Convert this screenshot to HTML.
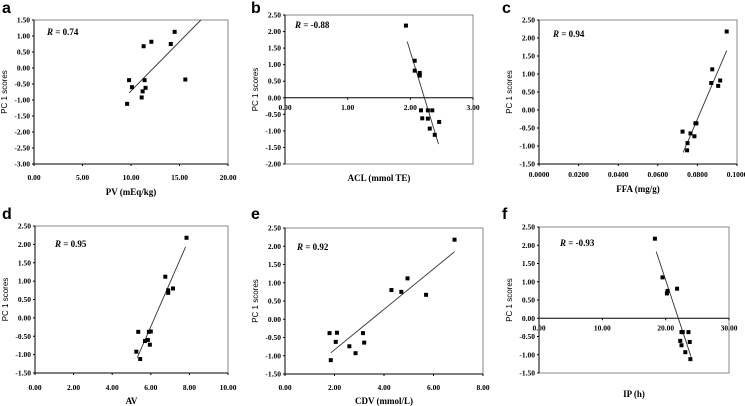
<!DOCTYPE html>
<html><head><meta charset="utf-8">
<style>
html,body{margin:0;padding:0;background:#fff;}
svg{display:block;}
.t{font-family:"Liberation Serif",serif;font-weight:bold;font-size:7.5px;fill:#000;}
.ttl{font-family:"Liberation Serif",serif;font-weight:bold;font-size:9px;fill:#000;}
.yl{font-family:"Liberation Sans",sans-serif;font-size:8px;fill:#000;}
.lt{font-family:"Liberation Sans",sans-serif;font-weight:bold;font-size:16px;fill:#000;}
.r{font-family:"Liberation Serif",serif;font-weight:bold;font-size:9px;fill:#000;}
</style></head>
<body>
<svg id="c" width="745" height="406" viewBox="0 0 745 406" xmlns="http://www.w3.org/2000/svg"></svg>
<script>
// Panel a
const aX=[9.6,9.8,10.1,11.1,11.2,11.3,11.4,11.5,12.1,14.1,14.5,15.6];
const aY=[-1.12,-0.38,-0.6,-0.92,-0.73,0.68,-0.38,-0.62,0.82,0.75,1.13,-0.36];
const aLine=[9.8,-0.78,17.2,1.5];
const aXTicks=["0.00","5.00","10.00","15.00","20.00"];
const aYTicks=["-3.00","-2.50","-2.00","-1.50","-1.00","-0.50","0.00","0.50","1.00","1.50"];
// Panel b
const bX=[1.93,2.07,2.07,2.15,2.15,2.17,2.28,2.35,2.19,2.28,2.31,2.39,2.46];
const bY=[2.18,1.12,0.82,0.75,0.67,-0.38,-0.38,-0.38,-0.62,-0.63,-0.93,-1.12,-0.73];
const bLine=[1.95,1.7,2.45,-1.4];
const bXTicks=["0.00","1.00","2.00","3.00"];
const bYTicks=["-2.00","-1.50","-1.00","-0.50","0.00","0.50","1.00","1.50","2.00","2.50"];
// Panel c
const cX=[0.0948,0.0875,0.087,0.0915,0.0905,0.0795,0.079,0.0725,0.0765,0.0785,0.075,0.0748];
const cY=[2.18,1.13,0.75,0.82,0.67,-0.37,-0.37,-0.6,-0.65,-0.73,-0.92,-1.12];
const cLine=[0.0728,-1.18,0.0948,1.65];
const cXTicks=["0.0000","0.0200","0.0400","0.0600","0.0800","0.1000"];
const cYTicks=["-1.50","-1.00","-0.50","0.00","0.50","1.00","1.50","2.00","2.50"];
// Panel d
const dX=[7.85,6.75,6.9,6.9,7.15,5.35,5.9,6.0,5.7,5.85,5.95,5.25,5.45];
const dY=[2.18,1.12,0.75,0.68,0.8,-0.38,-0.38,-0.37,-0.63,-0.6,-0.73,-0.92,-1.12];
const dLine=[5.3,-1.08,7.8,1.93];
const dXTicks=["0.00","2.00","4.00","6.00","8.00","10.00"];
const dYTicks=["-1.50","-1.00","-0.50","0.00","0.50","1.00","1.50","2.00","2.50"];
// Panel e
const eX=[6.85,4.95,4.3,4.7,5.7,1.8,2.1,3.15,2.05,3.2,2.6,2.85,1.85];
const eY=[2.18,1.12,0.8,0.75,0.67,-0.38,-0.37,-0.38,-0.62,-0.64,-0.74,-0.93,-1.12];
const eLine=[1.85,-0.92,6.85,1.85];
const eXTicks=["0.00","2.00","4.00","6.00","8.00"];
const eYTicks=["-1.50","-1.00","-0.50","0.00","0.50","1.00","1.50","2.00","2.50"];
// Panel f
const fX=[18.3,19.5,20.3,20.2,21.8,22.5,22.7,23.6,22.3,23.8,22.5,23.1,23.9];
const fY=[2.18,1.12,0.75,0.68,0.81,-0.38,-0.38,-0.38,-0.62,-0.65,-0.74,-0.93,-1.12];
const fLine=[18.5,1.83,24,-1.05];
const fXTicks=["0.00","10.00","20.00","30.00"];
const fYTicks=["-1.50","-1.00","-0.50","0.00","0.50","1.00","1.50","2.00","2.50"];

const NS="http://www.w3.org/2000/svg";
const svg=document.getElementById('c');
function mk(tag,attrs,parent,txt){const e=document.createElementNS(NS,tag);for(const k in attrs)e.setAttribute(k,attrs[k]);if(txt!==undefined)e.textContent=txt;parent.appendChild(e);return e;}

const panels=[
 {id:'a',L:34,R:228,T:20,B:164,x0:0,x1:20,y0:-3,y1:1.5,xs:aX,ys:aY,line:aLine,xt:aXTicks,yt:aYTicks,axisMid:false,xlY:180,title:"PV (mEq/kg)",tY:195,rTxt:"= 0.74",rX:47,rY:35,lx:2,ly:13},
 {id:'b',L:285,R:473,T:15,B:164,x0:0,x1:3,y0:-2,y1:2.5,xs:bX,ys:bY,line:bLine,xt:bXTicks,yt:bYTicks,axisMid:true,xlY:0,title:"ACL (mmol TE)",tY:181,rTxt:" = -0.88",rX:295,rY:28,lx:251,ly:13},
 {id:'c',L:539,R:737,T:20,B:164,x0:0,x1:0.1,y0:-1.5,y1:2.5,xs:cX,ys:cY,line:cLine,xt:cXTicks,yt:cYTicks,axisMid:false,xlY:177,title:"FFA (mg/g)",tY:192,rTxt:"= 0.94",rX:553,rY:37,lx:502,ly:13},
 {id:'d',L:35,R:228,T:226,B:373,x0:0,x1:10,y0:-1.5,y1:2.5,xs:dX,ys:dY,line:dLine,xt:dXTicks,yt:dYTicks,axisMid:false,xlY:390,title:"AV",tY:404,rTxt:"= 0.95",rX:55,rY:247,lx:2,ly:219},
 {id:'e',L:285,R:483,T:228,B:374,x0:0,x1:8,y0:-1.5,y1:2.5,xs:eX,ys:eY,line:eLine,xt:eXTicks,yt:eYTicks,axisMid:false,xlY:390,title:"CDV (mmol/L)",tY:404,rTxt:"= 0.92",rX:297,rY:250,lx:251,ly:219},
 {id:'f',L:539,R:729,T:227,B:373,x0:0,x1:30,y0:-1.5,y1:2.5,xs:fX,ys:fY,line:fLine,xt:fXTicks,yt:fYTicks,axisMid:true,xlY:0,title:"IP (h)",tY:397,rTxt:"= -0.93",rX:560,rY:246,lx:502,ly:219}
];

panels.forEach(p=>{
  const g=mk('g',{},svg);
  
  
  const sx=v=>p.L+(v-p.x0)/(p.x1-p.x0)*(p.R-p.L);
  const sy=v=>p.B-(v-p.y0)/(p.y1-p.y0)*(p.B-p.T);
  const frame=mk('rect',{x:p.L,y:p.T,width:p.R-p.L,height:p.B-p.T,fill:'#fff',stroke:'#888','stroke-width':1},g);
  
  
  const ya=mk('line',{x1:p.L,y1:p.T,x2:p.L,y2:p.B,stroke:'#000','stroke-width':1},g);
  
  
  const axY=p.axisMid?sy(0):p.B;
  const xa=mk('line',{x1:p.L,y1:axY,x2:p.R,y2:axY,stroke:'#000','stroke-width':1},g);
  
  
  p.yt.forEach((t,i)=>{
    const v=p.y0+i*(p.y1-p.y0)/(p.yt.length-1);
    const y=sy(v);
    mk('line',{x1:p.L-2,y1:y,x2:p.L,y2:y,stroke:'#000','stroke-width':1},g);
    const tx=mk('text',{x:p.L-4,y:y+2.5,'text-anchor':'end',class:'t'},g,t);
    
    
  });
  p.xt.forEach((t,i)=>{
    const v=p.x0+i*(p.x1-p.x0)/(p.xt.length-1);
    const x=sx(v);
    mk('line',{x1:x,y1:axY,x2:x,y2:axY+2,stroke:'#000','stroke-width':1},g);
    const ly=p.axisMid?axY+12:p.xlY;
    const tx=mk('text',{x:x,y:ly,'text-anchor':'middle',class:'t'},g,t);
    
    
  });
  const tl=mk('line',{x1:sx(p.line[0]),y1:sy(p.line[1]),x2:sx(p.line[2]),y2:sy(p.line[3]),stroke:'#333','stroke-width':0.9},g);
  
  
  p.xs.forEach((xv,i)=>{
    const r=mk('rect',{x:sx(xv)-2,y:sy(p.ys[i])-2,width:4,height:4,fill:'#000'},g);
    
    
  });
  const xt=mk('text',{x:(p.L+p.R)/2,y:p.tY,'text-anchor':'middle',class:'ttl'},g,p.title);
  
  
  const yx=p.L-27, yc=(p.T+p.B)/2;
  const yt=mk('text',{x:yx,y:yc,'text-anchor':'middle',class:'yl',transform:'rotate(-90 '+yx+' '+yc+')'},g,'PC 1 scores');
  
  
  const rt=mk('text',{x:p.rX,y:p.rY,class:'r'},g);
  
  
  mk('tspan',{'font-style':'italic'},rt,'R');
  mk('tspan',{},rt,' '+p.rTxt);
  const lt=mk('text',{x:p.lx,y:p.ly,class:'lt'},g,p.id);
  
  
});
</script>
</body></html>
